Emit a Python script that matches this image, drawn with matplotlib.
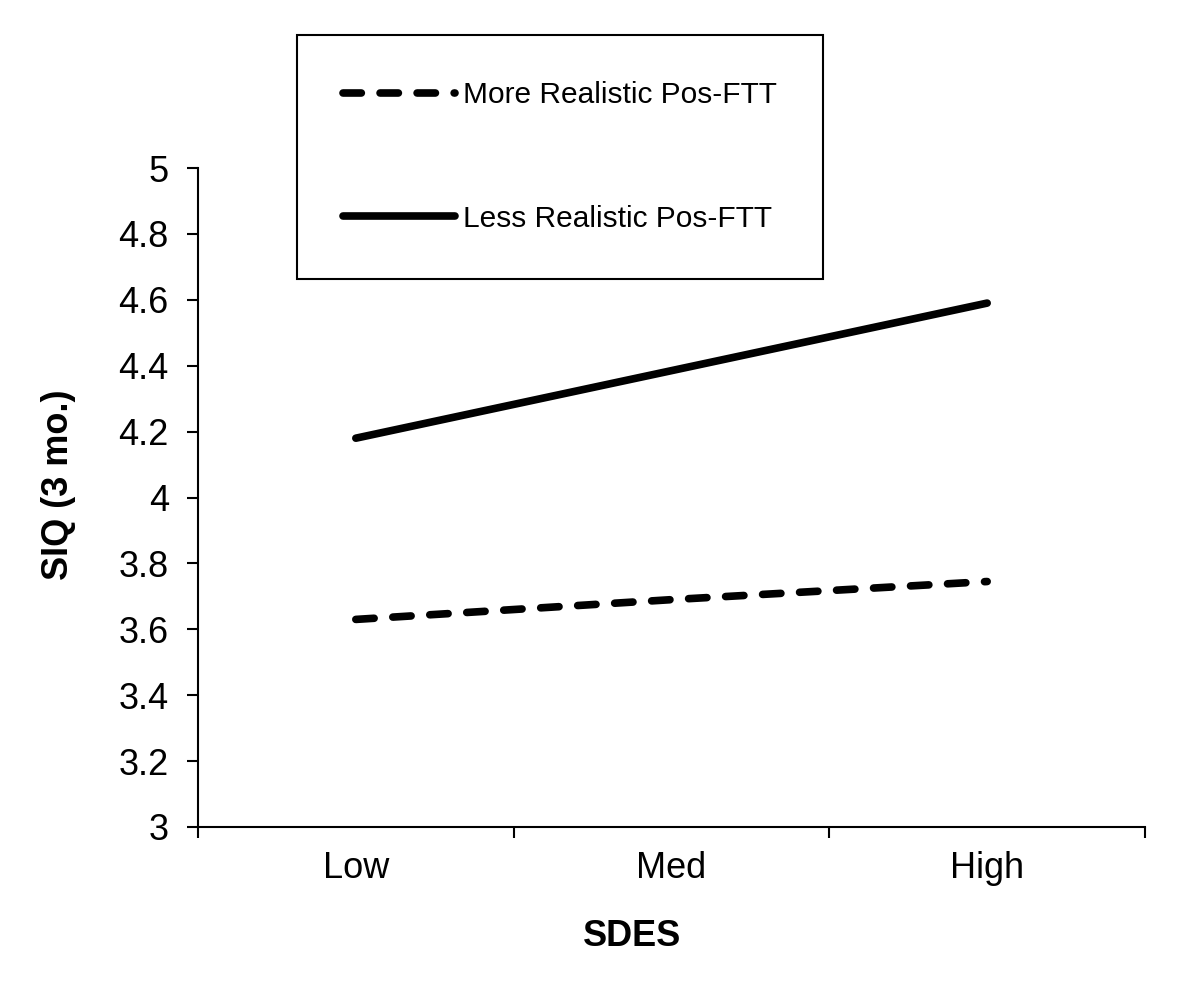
import matplotlib
matplotlib.use("Agg")
import matplotlib.pyplot as plt
from matplotlib.ticker import FixedLocator

plt.rcParams['font.family'] = ['Liberation Sans', 'DejaVu Sans']

# data
categories = ["Low", "Med", "High"]
more_realistic = [3.63, 3.69, 3.745]
less_realistic = [4.18, 4.385, 4.59]
series_labels = ["More Realistic Pos-FTT", "Less Realistic Pos-FTT"]
y_ticks = [3, 3.2, 3.4, 3.6, 3.8, 4, 4.2, 4.4, 4.6, 4.8, 5]
y_ticklabels = ["3", "3.2", "3.4", "3.6", "3.8", "4", "4.2", "4.4", "4.6", "4.8", "5"]

fig = plt.figure(figsize=(11.81, 9.84), dpi=100)
ax = fig.add_axes([198 / 1181, 1 - 827 / 984, (1145 - 198) / 1181, (827 - 168) / 984])

xs = list(range(len(categories)))
ax.plot(xs, more_realistic, color="black", lw=5.5, linestyle=(0, (2.4, 2.45)),
        dash_capstyle="round", solid_capstyle="round", label=series_labels[0])
ax.plot(xs, less_realistic, color="black", lw=5.5, solid_capstyle="round",
        label=series_labels[1])

ax.set_xlim(-0.5, len(categories) - 0.5)
ax.set_ylim(3, 5)
ax.set_yticks(y_ticks)
ax.set_yticklabels(y_ticklabels, fontsize=26)
ax.set_xticks(xs)
ax.set_xticklabels(categories, fontsize=26)
ax.xaxis.set_minor_locator(FixedLocator([x - 0.5 for x in range(len(categories) + 1)]))
ax.tick_params(axis="x", which="major", length=0, pad=17)
ax.tick_params(axis="x", which="minor", length=8, width=1.5, direction="out")
ax.tick_params(axis="y", length=8, width=1.5, direction="out", pad=13)

for s in ["top", "right"]:
    ax.spines[s].set_visible(False)
for s in ["left", "bottom"]:
    ax.spines[s].set_linewidth(1.5)

ax.set_ylabel("SIQ (3 mo.)", fontsize=26, fontweight="bold")
ax.yaxis.set_label_coords(76 / 1181, 1 - 485 / 984, transform=fig.transFigure)
fig.text(632 / 1181, 1 - 936 / 984, "SDES", fontsize=26, fontweight="bold",
         ha="center", va="center")

leg = ax.legend(loc="upper left", bbox_to_anchor=(297 / 1181, 1 - 35 / 984),
                bbox_transform=fig.transFigure, fontsize=21.5, frameon=True,
                fancybox=False, edgecolor="black", framealpha=1,
                handlelength=3.75, handletextpad=0.27, labelspacing=3.2,
                borderpad=1.55, borderaxespad=0)
leg.get_frame().set_linewidth(1.5)

fig.savefig("out.png", dpi=100, facecolor="white")
